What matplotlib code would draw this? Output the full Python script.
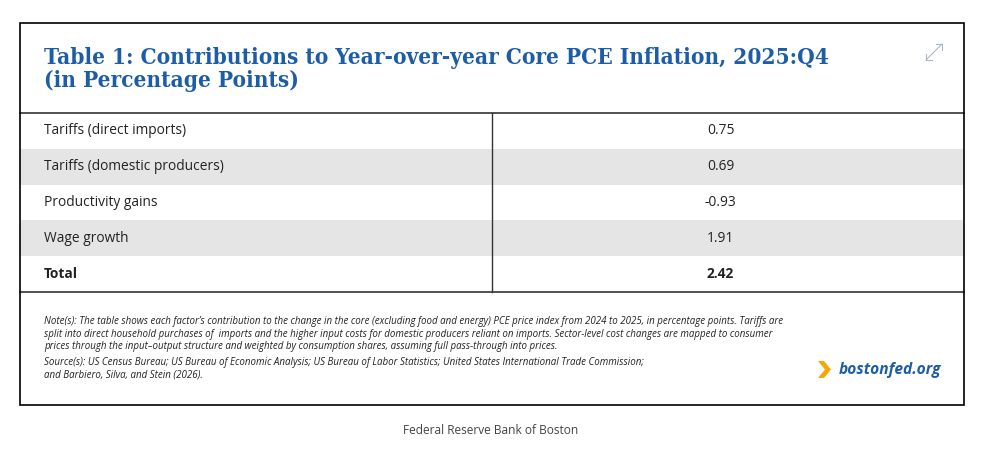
import matplotlib.pyplot as plt
from matplotlib.patches import Rectangle, Polygon

# Datos de la tabla
factors = ["Tariffs (direct imports)", "Tariffs (domestic producers)",
           "Productivity gains", "Wage growth", "Total"]
contributions = [0.75, 0.69, -0.93, 1.91, 2.42]

title_lines = ["Table 1: Contributions to Year-over-year Core PCE Inflation, 2025:Q4",
               "(in Percentage Points)"]
note_lines = [
    "Note(s): The table shows each factor\u2019s contribution to the change in the core (excluding food and energy) PCE price index from 2024 to 2025, in percentage points. Tariffs are",
    "split into direct household purchases of  imports and the higher input costs for domestic producers reliant on imports. Sector-level cost changes are mapped to consumer",
    "prices through the input\u2013output structure and weighted by consumption shares, assuming full pass-through into prices.",
]
source_lines = [
    "Source(s): US Census Bureau; US Bureau of Economic Analysis; US Bureau of Labor Statistics; United States International Trade Commission;",
    "and Barbiero, Silva, and Stein (2026).",
]
footer = "Federal Reserve Bank of Boston"

BLUE = "#1d5da8"
GRAY = "#e5e5e5"

W, H = 990, 454
fig = plt.figure(figsize=(W / 100, H / 100), dpi=100)
ax = fig.add_axes([0, 0, 1, 1])
ax.set_xlim(0, W)
ax.set_ylim(H, 0)
ax.axis("off")

# Caja exterior
left, right, top, bottom = 19.5, 963.5, 22.5, 404.5
ax.add_patch(Rectangle((left, top), right - left, bottom - top,
                       fill=False, edgecolor="black", linewidth=1.2, zorder=5))

# Titulo
for k, line in enumerate(title_lines):
    ax.text(44, 64 + k * 23.5, line, fontsize=16.2, fontweight="bold",
            family="DejaVu Serif", fontstretch="condensed",
            color=BLUE, va="baseline", ha="left")

# Icono de expandir
ic = "#a9b8c4"
ax.plot([926, 942], [60, 44], color=ic, linewidth=0.8)
ax.plot([936, 942, 942], [44, 44, 50], color=ic, linewidth=0.8)
ax.plot([926, 926, 932], [54, 60, 60], color=ic, linewidth=0.8)

# Filas
table_top = 113
row_h = 35.8
divider = 491.5
for i, (name, val) in enumerate(zip(factors, contributions)):
    y0 = table_top + i * row_h
    if i % 2 == 1:
        ax.add_patch(Rectangle((left, y0), right - left, row_h,
                               facecolor=GRAY, edgecolor="none", zorder=1))
    weight = "bold" if name == "Total" else "normal"
    ax.text(44, y0 + row_h / 2, name, fontsize=9.9, family="Open Sans",
            fontweight=weight, va="center", ha="left", color="#222222", zorder=3)
    ax.text(720.5, y0 + row_h / 2, f"{val:.2f}", fontsize=9.9, family="Open Sans",
            fontweight=weight, va="center", ha="center", color="#222222", zorder=3)

table_bottom = table_top + len(factors) * row_h
ax.plot([left, right], [table_top, table_top], color="#333333", linewidth=1.2, zorder=4)
ax.plot([left, right], [table_bottom, table_bottom], color="#333333", linewidth=1.2, zorder=4)
ax.plot([divider, divider], [table_top, table_bottom], color="#333333", linewidth=1.0, zorder=4)

# Notas y fuentes
for k, line in enumerate(note_lines):
    ax.text(44, 321.7 + k * 12.4, line, fontsize=7.05, family="Open Sans", style="italic",
            va="center", ha="left", color="#222222")
for k, line in enumerate(source_lines):
    ax.text(44, 362.2 + k * 12.4, line, fontsize=7.05, family="Open Sans", style="italic",
            va="center", ha="left", color="#222222")

# Logo
ax.add_patch(Polygon([[818, 361], [824, 361], [831, 369.5], [824, 378], [818, 378], [825, 369.5]],
                     closed=True, facecolor="#f2a900", edgecolor="none"))
ax.text(839, 369.5, "bostonfed.org", fontsize=11.2, family="Open Sans", fontweight="bold",
        style="italic", color=BLUE, va="center", ha="left")

ax.text(491, 431, footer, fontsize=8.6, family="Open Sans", color="#444444",
        va="center", ha="center")

fig.savefig("out.png", dpi=100, facecolor="white")
